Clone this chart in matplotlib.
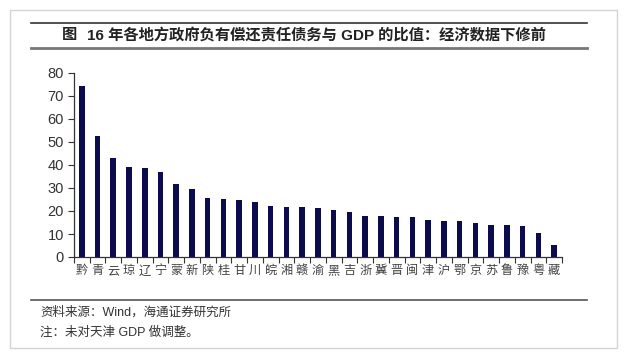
import matplotlib.pyplot as plt
from matplotlib.lines import Line2D
from matplotlib.patches import Rectangle

plt.rcParams['font.family'] = ['Liberation Sans', 'Noto Sans CJK SC']

provinces = ['黔', '青', '云', '琼', '辽', '宁', '蒙', '新', '陕', '桂', '甘', '川', '皖', '湘', '赣', '渝',
             '黑', '吉', '浙', '冀', '晋', '闽', '津', '沪', '鄂', '京', '苏', '鲁', '豫', '粤', '藏']
ratios = [74.5, 52.5, 43.2, 39.0, 38.5, 37.1, 31.7, 29.7, 25.6, 25.3, 24.9, 23.9, 22.1, 21.7, 21.7, 21.2,
          20.5, 19.7, 17.9, 17.9, 17.5, 17.2, 16.1, 15.7, 15.7, 14.7, 13.9, 13.8, 13.5, 10.3, 5.1]
yticks = [0, 10, 20, 30, 40, 50, 60, 70, 80]

W, H = 627, 359
fig = plt.figure(figsize=(W / 100, H / 100), dpi=100)

def fx(px):
    return px / W

def fy(py):
    return 1 - py / H

# outer frame
fig.add_artist(Rectangle((fx(10), fy(348)), fx(607), (338) / H, transform=fig.transFigure,
                         fill=False, edgecolor='#d4d4d4', linewidth=1))
# title rules
fig.add_artist(Line2D([fx(31), fx(587)], [fy(23), fy(23)], color='#333333', linewidth=1.2))
fig.add_artist(Line2D([fx(31), fx(587)], [fy(48), fy(48)], color='#777777', linewidth=2.0))
fig.add_artist(Line2D([fx(31), fx(587)], [fy(300), fy(300)], color='#555555', linewidth=1.2))

fig.text(fx(62), fy(35.5), '图', fontsize=11, fontweight='bold', ha='left', va='center', color='#222222')
fig.text(fx(87), fy(35.5), '16 年各地方政府负有偿还责任债务与 GDP 的比值：经济数据下修前',
         fontsize=11, fontweight='bold', ha='left', va='center', color='#222222')

fig.text(fx(40), fy(312), '资料来源：Wind，海通证券研究所', fontsize=9, ha='left', va='center', color='#333333')
fig.text(fx(40), fy(333), '注：未对天津 GDP 做调整。', fontsize=9, ha='left', va='center', color='#333333')

ax = fig.add_axes([fx(73.8), fy(257), fx(562) - fx(73.8), (257 - 73) / H])
x = list(range(len(provinces)))
ax.bar(x, ratios, width=0.36, color='#0b0b4d')
ax.set_xlim(-0.5, len(provinces) - 0.5)
ax.set_ylim(0, 80)
ax.set_yticks(yticks)
ax.tick_params(axis='y', direction='out', length=4, labelsize=10.5, colors='#333333', pad=3)
ax.set_xticks([i - 0.5 for i in range(len(provinces) + 1)], minor=False)
ax.set_xticklabels([])
ax.set_xticks(x, minor=True)
ax.set_xticklabels(provinces, minor=True, fontsize=8.8, color='#444444')
ax.tick_params(axis='x', which='major', direction='out', length=4, color='#333333')
ax.tick_params(axis='x', which='minor', length=0, pad=6)
for s in ['top', 'right']:
    ax.spines[s].set_visible(False)
for s in ['left', 'bottom']:
    ax.spines[s].set_color('#333333')
    ax.spines[s].set_linewidth(0.9)

fig.savefig('out.png', dpi=100)
